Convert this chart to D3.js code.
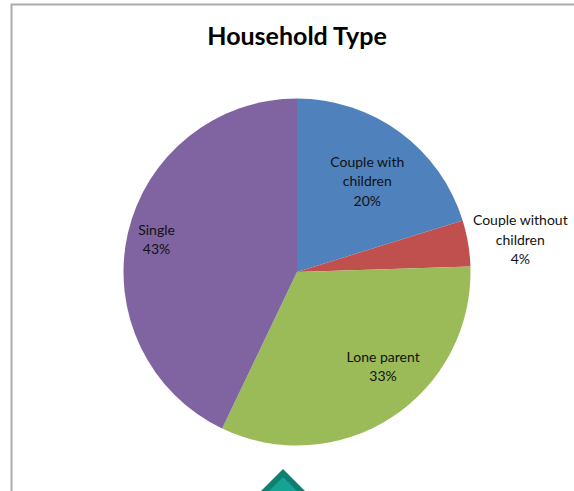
<!DOCTYPE html>
<html>
<head>
<meta charset="utf-8">
<script src="https://cdn.jsdelivr.net/npm/d3@7"></script>
<style>
  body { margin: 0; background: #fff; }
  svg { display: block; }
</style>
</head>
<body>
<div id="chart"></div>
<script>
// chart data
const categories = ['Couple with children', 'Couple without children', 'Lone parent', 'Single'];
const values = [20.2, 4.3, 32.6, 42.9];
const colors = ['#4F81BD', '#C0504D', '#9BBB59', '#8064A2'];
// label line breaks as shown on the chart
const labelLines = [['Couple with', 'children'], ['Couple without', 'children'], ['Lone parent'], ['Single']];

const width = 574, height = 491;
const cx = 297, cy = 272, radius = 173.5;

const svg = d3.select('#chart').append('svg')
    .attr('width', width)
    .attr('height', height);

// chart area border (gray frame)
svg.append('path')
    .attr('d', 'M11.5,' + height + 'V4.5H' + width)
    .attr('fill', 'none')
    .attr('stroke', '#ababab')
    .attr('stroke-width', 2);

svg.append('text')
    .attr('x', cx)
    .attr('y', 45)
    .attr('text-anchor', 'middle')
    .attr('font-family', 'Lato, "Open Sans", sans-serif')
    .attr('font-weight', 'bold')
    .attr('font-size', 25)
    .attr('fill', '#000')
    .text('Household Type');

const pie = d3.pie().sort(null).value(d => d);
const arcs = pie(values);
const arc = d3.arc().innerRadius(0).outerRadius(radius);

const g = svg.append('g').attr('transform', `translate(${cx},${cy})`);

g.selectAll('path.slice')
    .data(arcs)
    .enter().append('path')
    .attr('class', 'slice')
    .attr('d', arc)
    .attr('fill', (d, i) => colors[i]);

// label placement: distance (fraction of radius) and angle nudge (degrees)
const labelDist = [0.66, 1.3, 0.74, 0.83];
const labelNudge = [1.5, 1.5, -9, 0];

const total = d3.sum(values);
const labels = g.selectAll('text.lbl')
    .data(arcs)
    .enter().append('text')
    .attr('class', 'lbl')
    .attr('text-anchor', 'middle')
    .attr('font-family', 'Lato, "Open Sans", sans-serif')
    .attr('font-size', 14)
    .attr('fill', '#111');

labels.each(function(d, i) {
    const mid = (d.startAngle + d.endAngle) / 2 + labelNudge[i] * Math.PI / 180;
    const r = labelDist[i] * radius;
    const x = Math.sin(mid) * r;
    const y = -Math.cos(mid) * r;
    const lines = labelLines[i].concat([Math.round(values[i] / total * 100) + '%']);
    const lh = 19.5;
    const y0 = y - (lines.length - 1) * lh / 2 + 4.5;
    const t = d3.select(this);
    lines.forEach((s, k) => {
        t.append('tspan').attr('x', x).attr('y', y0 + k * lh).text(s);
    });
});

// teal marker at the bottom edge
svg.append('path')
    .attr('d', 'M283,469L309,495L257,495Z')
    .attr('fill', '#0f7f72');
svg.append('path')
    .attr('d', 'M283,477L303,497L263,497Z')
    .attr('fill', '#17a394');
</script>
</body>
</html>
